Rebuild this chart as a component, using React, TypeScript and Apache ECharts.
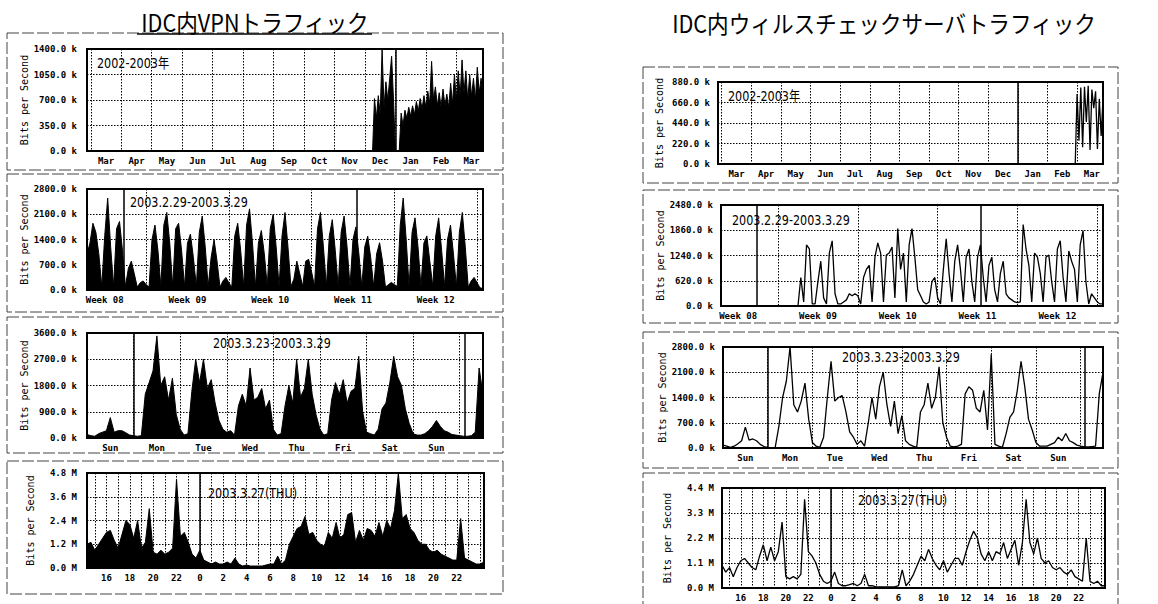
import React, { useEffect, useRef } from 'react';
import * as echarts from 'echarts';

// ---------- texts ----------
const vpnTitle = 'IDC内VPNトラフィック';
const virusTitle = 'IDC内ウィルスチェックサーバトラフィック';
const periodTitles = ['2002-2003年', '2003.2.29-2003.3.29', '2003.3.23-2003.3.29', '2003.3.27(THU)'];
const yAxisName = 'Bits per Second';

// ---------- tick labels ----------
const yearMonthLabels = ['Mar', 'Apr', 'May', 'Jun', 'Jul', 'Aug', 'Sep', 'Oct', 'Nov', 'Dec', 'Jan', 'Feb', 'Mar'];
const monthWeekLabels = ['Week 08', 'Week 09', 'Week 10', 'Week 11', 'Week 12'];
const weekDayLabels = ['Sun', 'Mon', 'Tue', 'Wed', 'Thu', 'Fri', 'Sat', 'Sun'];
const dayHourLabels = ['16', '18', '20', '22', '0', '2', '4', '6', '8', '10', '12', '14', '16', '18', '20', '22'];

// ---------- y axis maxima ----------
const vpnYMax = [1400, 2800, 3600, 4.8];
const virusYMax = [880, 2480, 2800, 4.4];
const yUnits = ['k', 'k', 'k', 'M'];

// ---------- yearly (x in 1/8 month, 0..104) ----------
const yearStep = 0.5;
const vpnYearStart = 74;
const vpnYearValues = [
  0, 0, 0, 720, 450, 760, 500, 1400, 600, 950, 700, 1000, 1300, 700, 0, 0, 0,
  520, 350, 560, 450, 600, 480, 620, 500, 680, 550, 720, 580, 760, 600, 820, 650,
  1230, 700, 880, 620, 800, 600, 850, 620, 780, 600, 930, 650, 1050, 700, 1100, 750,
  1250, 800, 1100, 700, 1050, 750, 1000, 700, 1150, 800, 1000, 700,
];
const virusYearStart = 96.5;
const virusYearValues = [0, 750, 250, 820, 180, 830, 450, 840, 150, 800, 600, 780, 160, 700, 300, 700];
const vpnYearMarks = [81];
const virusYearMarks = [81];

// ---------- monthly (x in days, 0..33.5, 6h step) ----------
const monthStep = 0.25;
const vpnMonthValues = [
  1000, 1300, 1850, 1600, 1000, 100, 1500, 2550, 1200, 100, 1700, 1900, 1100, 100, 600, 800,
  450, 80, 200, 250, 150, 80, 1400, 1800, 1100, 100, 1800, 2150, 1300, 100, 1700, 1850,
  1100, 100, 1300, 1550, 900, 100, 1600, 2050, 1200, 100, 900, 1400, 800, 80, 250, 350,
  200, 80, 1500, 1850, 1100, 100, 1800, 2250, 1300, 100, 1300, 1650, 1000, 100, 1700, 2100,
  1200, 100, 1500, 2150, 1200, 100, 300, 800, 450, 100, 800, 850, 500, 100, 1700, 2150,
  1200, 100, 1500, 1950, 1100, 100, 1600, 2050, 1200, 100, 1400, 1750, 1000, 100, 1200, 1490,
  900, 100, 1000, 1310, 800, 80, 150, 210, 150, 100, 1800, 2550, 1400, 100, 1600, 2000,
  1200, 100, 1300, 1500, 800, 100, 1500, 2000, 1100, 100, 1400, 1800, 1000, 100, 1600, 2150,
  1200, 80, 250, 350, 200, 60, 40,
];
const virusMonthValues = [
  0, 0, 0, 0, 0, 0, 0, 0, 0, 0, 0, 0, 0, 0, 0, 0, 0, 0, 0, 0, 0, 0, 0, 0, 0, 0, 0, 0,
  700, 100, 1500, 1400, 50, 50, 600, 1100, 200, 50, 1300, 1600, 300, 50, 50, 100,
  150, 300, 250, 300, 250, 50, 700, 900, 1000, 100, 1200, 1550, 1300, 100, 1250, 1300,
  1450, 200, 1900, 900, 1300, 100, 1500, 1900, 1200, 400, 250, 100, 50, 100, 600, 700,
  200, 50, 900, 1650, 800, 100, 1100, 1500, 900, 100, 1200, 1400, 600, 100, 1200, 1500,
  700, 100, 1000, 1200, 400, 100, 800, 1100, 300, 200, 150, 100, 80, 100, 2000, 1400,
  1000, 100, 1300, 1200, 800, 100, 1200, 1250, 600, 100, 1400, 1600, 700, 100, 1350, 1100,
  900, 100, 1500, 1850, 600, 50, 300, 200, 100, 50, 50,
];
const vpnMonthMarks = [3.1, 22.8];
const virusMonthMarks = [3.15, 22.8];

// ---------- weekly (x in days, 0..8.5, 2h step) ----------
const weekStep = 1 / 12;
const vpnWeekValues = [
  120, 80, 60, 150, 200, 250, 700, 200, 250, 250, 180, 100,
  80, 60, 80, 1500, 1900, 2300, 3500, 1800, 2100, 1300, 2050, 800,
  300, 100, 150, 1600, 2700, 1900, 2700, 1700, 2000, 1200, 600, 300,
  200, 250, 100, 1100, 1500, 1100, 2400, 1300, 1400, 1700, 1000, 1300,
  300, 100, 150, 1100, 1800, 1200, 2700, 1400, 1700, 2700, 1500, 800,
  300, 100, 150, 1300, 1900, 1500, 2000, 1200, 1600, 1700, 2800, 900,
  200, 150, 100, 300, 1000, 1200, 1900, 2800, 2100, 1800, 1000, 500,
  150, 100, 100, 150, 250, 400, 600, 400, 250, 200, 120, 100,
  80, 60, 60, 80, 200, 2400, 1500,
];
const virusWeekValues = [
  80, 50, 20, 50, 120, 200, 580, 220, 250, 200, 100, 40,
  20, 10, 10, 600, 1400, 1850, 2800, 1200, 1000, 1300, 1800, 800,
  150, 50, 20, 300, 1400, 2400, 1300, 1400, 1450, 1000, 450, 300,
  100, 200, 50, 700, 1400, 800, 1700, 2100, 1200, 600, 1300, 400,
  900, 200, 100, 50, 20, 1000, 1200, 1800, 1100, 1400, 2250, 700,
  300, 50, 30, 50, 100, 1500, 1700, 1600, 1100, 1000, 1600, 500,
  2600, 100, 50, 20, 400, 850, 1000, 1600, 2400, 1700, 800, 500,
  150, 50, 50, 50, 100, 150, 300, 200, 400, 200, 150, 80,
  50, 30, 30, 40, 50, 1500, 2100,
];
const vpnWeekMarks = [1, 8.1];
const virusWeekMarks = [1, 8.1];

// ---------- daily (x in 20-minute steps from 14:20, 0..102) ----------
const dayStep = 1;
const vpnDayValues = [
  1.2, 1.3, 0.9, 1.2, 1.5, 1.8, 1.9, 1.4, 1.0, 1.7, 2.4, 2.2,
  1.5, 2.4, 1.0, 1.3, 3.0, 0.8, 0.7, 0.9, 0.7, 0.8, 1.0, 4.5,
  1.6, 1.8, 1.3, 0.7, 0.5, 0.9, 0.4, 0.3, 0.2, 0.3, 0.2, 0.2,
  0.3, 0.2, 0.5, 0.2, 0.1, 0.15, 0.1, 0.1, 0.1, 0.1, 0.15, 0.2,
  0.2, 0.6, 0.2, 0.4, 1.2, 1.6, 2.0, 2.1, 2.6, 1.7, 1.8, 1.4,
  1.2, 1.1, 1.8, 1.5, 2.3, 1.5, 1.7, 2.7, 2.8, 1.3, 1.9, 1.4,
  2.0, 1.9, 1.6, 2.3, 1.6, 2.4, 2.0, 2.9, 4.8, 2.5, 2.7, 2.0,
  1.8, 1.4, 1.2, 1.2, 0.9, 0.8, 0.9, 0.7, 0.6, 0.5, 0.4, 0.4,
  2.5, 0.5, 0.4, 0.3, 0.2, 0.2, 0.3,
];
const virusDayValues = [
  1.0, 0.7, 0.9, 0.5, 0.9, 1.2, 1.3, 1.1, 0.9, 0.8, 1.4, 1.9,
  1.2, 1.8, 1.2, 1.6, 2.9, 0.5, 0.4, 0.5, 0.4, 0.6, 3.9, 1.6,
  1.4, 1.1, 0.6, 0.3, 0.2, 0.3, 0.7, 0.2, 0.1, 0.1, 0.15, 0.2,
  0.1, 0.2, 0.6, 0.1, 0.1, 0.05, 0.05, 0.05, 0.05, 0.05, 0.05, 0.1,
  0.8, 0.1, 0.3, 0.6, 1.0, 1.4, 1.2, 1.7, 1.3, 1.0, 0.8, 1.2,
  0.7, 1.0, 1.3, 1.3, 1.0, 1.6, 2.1, 2.5, 2.2, 1.5, 1.2, 1.6,
  1.2, 1.6, 1.5, 2.0, 1.3, 1.7, 2.1, 1.0, 2.0, 3.9, 2.0, 1.5,
  2.2, 1.3, 1.1, 1.2, 0.9, 0.8, 0.9, 0.7, 0.6, 0.8, 0.5, 0.4,
  0.3, 2.2, 0.3, 0.2, 0.3, 0.1, 0.1,
];
const vpnDayMarks = [29];
const virusDayMarks = [29];

// ---------- x scales (time structure of each MRTG graph) ----------
type Scale = { min: number; max: number; res: number; lines: number[]; labels: { pos: number; text: string }[] };
const scales: Scale[] = [
  {
    min: 0, max: 104, res: 1,
    lines: yearMonthLabels.map((_, i) => 1 + 8 * i),
    labels: yearMonthLabels.map((t, i) => ({ pos: 5 + 8 * i, text: t })),
  },
  {
    min: 0, max: 33.5, res: 0.5,
    lines: monthWeekLabels.map((_, i) => 5 + 7 * i),
    labels: monthWeekLabels.map((t, i) => ({ pos: 1.5 + 7 * i, text: t })),
  },
  {
    min: 0, max: 8.5, res: 0.5,
    lines: weekDayLabels.map((_, i) => 1 + i),
    labels: weekDayLabels.map((t, i) => ({ pos: 0.5 + i, text: t })),
  },
  {
    min: 0, max: 102, res: 1,
    lines: Array.from({ length: 34 }, (_, i) => 2 + 3 * i),
    labels: dayHourLabels.map((t, i) => ({ pos: 5 + 6 * i, text: t })),
  },
];

const MONO = '"DejaVu Sans Mono", "Liberation Mono", monospace';
const dotted = { color: '#000', width: 1, type: [1.5, 1.5] };

type Box = { left: number; top: number; width: number; height: number };
const vpnGrids: Box[] = [
  { left: 87, top: 49, width: 396, height: 102 },
  { left: 87, top: 189, width: 396, height: 101 },
  { left: 87, top: 333, width: 396, height: 105 },
  { left: 87, top: 473, width: 397, height: 95 },
];
const virusGrids: Box[] = [
  { left: 718, top: 82, width: 385, height: 82 },
  { left: 721, top: 205, width: 382, height: 101 },
  { left: 723, top: 347, width: 380, height: 101 },
  { left: 722, top: 488, width: 383, height: 100 },
];

function buildOption() {
  const grid: any[] = [];
  const xAxis: any[] = [];
  const yAxis: any[] = [];
  const series: any[] = [];

  const panels = [
    { g: vpnGrids[0], s: 0, max: vpnYMax[0], unit: yUnits[0], fill: true, start: vpnYearStart, step: yearStep, vals: vpnYearValues, marks: vpnYearMarks, lead: true, gap: 58, lm: 10 },
    { g: vpnGrids[1], s: 1, max: vpnYMax[1], unit: yUnits[1], fill: true, start: 0, step: monthStep, vals: vpnMonthValues, marks: vpnMonthMarks, lead: false, gap: 58, lm: 10 },
    { g: vpnGrids[2], s: 2, max: vpnYMax[2], unit: yUnits[2], fill: true, start: 0, step: weekStep, vals: vpnWeekValues, marks: vpnWeekMarks, lead: false, gap: 58, lm: 10 },
    { g: vpnGrids[3], s: 3, max: vpnYMax[3], unit: yUnits[3], fill: true, start: 0, step: dayStep, vals: vpnDayValues, marks: vpnDayMarks, lead: false, gap: 52, lm: 10 },
    { g: virusGrids[0], s: 0, max: virusYMax[0], unit: yUnits[0], fill: false, start: virusYearStart, step: yearStep, vals: virusYearValues, marks: virusYearMarks, lead: true, gap: 54, lm: 8 },
    { g: virusGrids[1], s: 1, max: virusYMax[1], unit: yUnits[1], fill: false, start: 0, step: monthStep, vals: virusMonthValues, marks: virusMonthMarks, lead: false, gap: 56, lm: 8 },
    { g: virusGrids[2], s: 2, max: virusYMax[2], unit: yUnits[2], fill: false, start: 0, step: weekStep, vals: virusWeekValues, marks: virusWeekMarks, lead: false, gap: 56, lm: 8 },
    { g: virusGrids[3], s: 3, max: virusYMax[3], unit: yUnits[3], fill: false, start: 0, step: dayStep, vals: virusDayValues, marks: virusDayMarks, lead: false, gap: 50, lm: 8 },
  ];

  panels.forEach((p, i) => {
    const sc = scales[p.s];
    grid.push({ ...p.g, show: true, borderColor: '#000', borderWidth: 2, backgroundColor: '#fff' });
    const count = Math.round((sc.max - sc.min) / sc.res) + 1;
    const labelMap: Record<number, string> = {};
    sc.labels.forEach((l) => { labelMap[Math.round((l.pos - sc.min) / sc.res)] = l.text; });
    const lineSet = new Set(sc.lines.map((v) => Math.round((v - sc.min) / sc.res)));
    xAxis.push({
      type: 'category', gridIndex: i, boundaryGap: false, position: 'bottom',
      data: Array.from({ length: count }, (_, k) => labelMap[k] ?? ''),
      axisLine: { show: false }, axisTick: { show: false },
      axisLabel: {
        interval: (k: number) => labelMap[k] !== undefined,
        margin: 5, color: '#000', fontFamily: MONO, fontWeight: 'bold', fontSize: 9,
      },
      splitLine: { show: true, interval: (k: number) => lineSet.has(k), lineStyle: dotted },
    });
    xAxis.push({ type: 'value', gridIndex: i, min: sc.min, max: sc.max, show: false });
    yAxis.push({
      type: 'value', gridIndex: i, min: 0, max: p.max, interval: p.max / 4,
      axisLine: { show: false }, axisTick: { show: false },
      axisLabel: {
        formatter: (v: number) => v.toFixed(1) + ' ' + p.unit,
        margin: p.lm, color: '#000', fontFamily: MONO, fontWeight: 'bold', fontSize: 9,
      },
      splitLine: { show: true, lineStyle: dotted },
      name: yAxisName, nameLocation: 'middle', nameGap: p.gap,
      nameTextStyle: { fontFamily: MONO, fontSize: 10, color: '#000' },
    });
    const pts: number[][] = p.vals.map((v, k) => [p.start + k * p.step, v]);
    if (p.lead) pts.unshift([sc.min, 0]);
    series.push({
      type: 'line', xAxisIndex: 2 * i + 1, yAxisIndex: i, data: pts,
      showSymbol: false, symbol: 'none', silent: true,
      lineStyle: { color: '#000', width: p.fill ? 1 : 1.3 },
      areaStyle: p.fill ? { color: '#000', opacity: 1 } : undefined,
      markLine: {
        silent: true, symbol: ['none', 'none'], label: { show: false },
        lineStyle: { color: '#000', type: 'solid', width: 1.5 },
        data: p.marks.map((m) => ({ xAxis: m })),
      },
    });
  });

  const frameStyle = { fill: 'none', stroke: '#444', lineWidth: 1, lineDash: [12, 3] };
  const frames = [
    [7, 33, 496, 137], [7, 174, 496, 138], [7, 317, 496, 136], [7, 461, 496, 133],
    [643, 67, 475, 116], [643, 190, 475, 133], [643, 332, 475, 136], [643, 473, 475, 135],
  ];
  const innerPos = [
    [97, 63], [130, 202], [213, 343], [208, 493],
    [728, 96], [732, 220], [842, 357], [858, 500],
  ];
  const graphic: any[] = [];
  frames.forEach((f) => graphic.push({ type: 'rect', silent: true, z: 0, shape: { x: f[0], y: f[1], width: f[2], height: f[3] }, style: frameStyle }));
  graphic.push({
    type: 'text', x: 255, y: 22, scaleX: 0.9, z: 10,
    style: { text: vpnTitle, font: '24px "Noto Sans CJK JP", sans-serif', fill: '#000', textAlign: 'center', textVerticalAlign: 'middle' },
  });
  graphic.push({ type: 'line', z: 10, shape: { x1: 137, y1: 34, x2: 372, y2: 34 }, style: { stroke: '#000', lineWidth: 1.5 } });
  graphic.push({
    type: 'text', x: 884, y: 23, scaleX: 0.9, z: 10,
    style: { text: virusTitle, font: '24px "Noto Sans CJK JP", sans-serif', fill: '#000', textAlign: 'center', textVerticalAlign: 'middle' },
  });
  innerPos.forEach((pos, i) => graphic.push({
    type: 'text', x: pos[0], y: pos[1], scaleX: 0.8, z: 10,
    style: { text: periodTitles[i % 4], font: '14px "DejaVu Sans", "Noto Sans CJK JP", sans-serif', fill: '#000', textAlign: 'left', textVerticalAlign: 'middle' },
  }));

  return { animation: false, backgroundColor: '#fff', grid, xAxis, yAxis, series, graphic };
}

export default function App() {
  const ref = useRef<HTMLDivElement>(null);
  useEffect(() => {
    if (!ref.current) return;
    const chart = echarts.init(ref.current, undefined, { renderer: 'svg' });
    chart.setOption(buildOption() as any);
    return () => chart.dispose();
  }, []);
  return <div ref={ref} style={{ position: 'fixed', left: 0, top: 0, width: 1158, height: 604, background: '#fff' }} />;
}
